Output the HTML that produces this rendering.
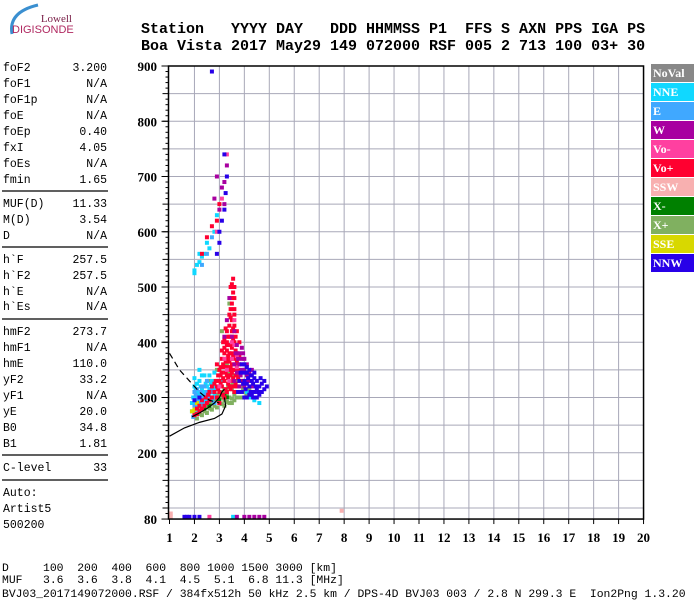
<!DOCTYPE html>
<html><head><meta charset="utf-8">
<style>
html,body{margin:0;padding:0;background:#fff;}
#root{position:relative;width:700px;height:600px;overflow:hidden;background:#fff;}
svg{position:absolute;left:0;top:0;}
</style></head>
<body>
<div id="root">
<svg id="chart" width="700" height="600" viewBox="0 0 700 600">
  <g>
    <path d="M12 34 Q8 12 38 5" stroke="#3a8fd0" stroke-width="3" fill="none"/>
    <text x="72" y="22" font-family="Liberation Serif,serif" font-size="11" fill="#7a2048" text-anchor="end">Lowell</text>
    <text x="12" y="33" font-family="Liberation Sans,sans-serif" font-size="11" fill="#b02860">DIGISONDE</text>
  </g>
  <g font-family="Liberation Mono,monospace" font-size="15" font-weight="bold" fill="#000">
    <text x="141" y="33" xml:space="preserve">Station   YYYY DAY   DDD HHMMSS P1  FFS S AXN PPS IGA PS</text>
    <text x="141" y="50" xml:space="preserve">Boa Vista 2017 May29 149 072000 RSF 005 2 713 100 03+ 30</text>
  </g>
  <g id="leftpanel" font-family="Liberation Mono,monospace" font-size="11.5" fill="#000"></g>
  <g id="grid"></g>
  <g id="marks"></g>
  <g id="lines"></g>
  <g id="axes"></g>
  <g id="legend"></g>
  <g font-family="Liberation Mono,monospace" font-size="11.4" fill="#000">
    <text x="2" y="571" xml:space="preserve">D     100  200  400  600  800 1000 1500 3000 [km]</text>
    <text x="2" y="583" xml:space="preserve">MUF   3.6  3.6  3.8  4.1  4.5  5.1  6.8 11.3 [MHz]</text>
    <text x="2" y="597" xml:space="preserve">BVJ03_2017149072000.RSF / 384fx512h 50 kHz 2.5 km / DPS-4D BVJ03 003 / 2.8 N 299.3 E  Ion2Png 1.3.20</text>
  </g>
</svg>
</div>
<script>
const NS="http://www.w3.org/2000/svg";
const xTicks=[1,2,3,4,5,6,7,8,9,10,11,12,13,14,15,16,17,18,19,20];
const yTicks=[900,800,700,600,500,400,300,200,80];
const yGrid=[850,800,750,700,650,600,550,500,450,400,350,300,250,200,150,100];
const paramLabels=["foF2","foF1","foF1p","foE","foEp","fxI","foEs","fmin","MUF(D)","M(D)","D","h`F","h`F2","h`E","h`Es","hmF2","hmF1","hmE","yF2","yF1","yE","B0","B1","C-level","Auto:","Artist5","500200"];
const paramValues=["3.200","N/A","N/A","N/A","0.40","4.05","N/A","1.65","11.33","3.54","N/A","257.5","257.5","N/A","N/A","273.7","N/A","110.0","33.2","N/A","20.0","34.8","1.81","33","","",""];
const paramRowY=[67,83,99,115,131,147,163,179,203,219,235,259,275,291,306,331,347,363,379,395,411,427,443,467,492,508,524];
const sepY=[191,247,319,455,480];
const legendNames=["NoVal","NNE","E","W","Vo-","Vo+","SSW","X-","X+","SSE","NNW"];
const legendColors=["#888888","#10d8ff","#40a8ff","#a800a0","#ff40a0","#ff0030","#f8b0b0","#008000","#80b060","#d8d800","#2800e8"];
// echo points [freq MHz, virtual height km]
const ptsNNE=[[1.9,290],[2.0,300],[2.1,310],[2.2,305],[2.3,295],[2.4,310],[2.0,320],[2.2,330],[2.5,300],[2.6,315],[2.8,305],[1.9,275],[2.1,285],[2.7,295],[3.0,320],[4.2,300],[4.4,295],[4.6,290],[4.1,310],[2.0,530],[2.1,540],[2.2,545],[2.3,555],[2.4,560],[2.6,570],[2.2,560],[2.5,580],[2.8,600],[2.9,630],[2.0,525],[3.55,84],[1.95,300],[2.05,315],[2.15,295],[2.25,320],[2.35,305],[2.45,325],[2.55,310],[2.65,325],[2.75,315],[2.85,320],[2.0,290],[2.2,285],[2.4,300],[2.6,305],[2.3,315],[2.1,325],[2.5,320],[2.7,330],[2.4,340],[2.9,330],[3.1,330],[2.05,280],[2.35,290],[2.15,305],[2.45,295],[2.3,340],[2.6,340],[2.8,345],[2.2,350],[2.0,335]];
const ptsE=[[2.0,285],[2.1,295],[2.3,300],[2.4,290],[2.5,310],[2.2,290],[2.6,300],[2.7,310],[2.9,315],[2.8,290],[2.1,275],[1.95,265],[2.3,540],[2.5,560],[2.7,590],[2.15,300],[2.25,310],[2.35,285],[2.45,305],[2.55,295],[2.65,315],[2.75,300],[2.05,305],[2.3,320],[2.5,330],[2.1,315],[2.0,310],[2.4,320]];
const ptsW=[[3.8,360],[3.9,370],[4.0,350],[4.1,340],[4.2,330],[3.7,345],[3.9,390],[3.6,330],[4.3,320],[3.4,480],[3.3,440],[3.2,410],[3.0,640],[3.2,690],[3.3,720],[3.1,680],[2.9,700],[2.8,660],[3.2,650],[3.7,84],[4.0,84],[4.2,84],[4.4,84],[4.6,84],[4.8,84],[3.8,380],[3.9,350],[4.0,370],[4.1,360],[3.7,395],[3.8,320],[4.0,320],[3.6,360],[3.75,370],[3.85,340],[3.95,380],[4.05,330],[3.65,380],[4.2,345],[4.3,350],[3.5,410],[3.6,420]];
const ptsVoMinus=[[3.6,395],[3.7,375],[3.5,370],[3.4,330],[3.8,345],[3.0,320],[2.9,600],[3.1,660],[3.3,740],[2.6,84],[3.3,350],[3.5,400],[3.6,440],[3.2,370],[3.7,355]];
const ptsVoPlus=[[2.9,300],[3.0,310],[3.1,320],[3.2,330],[3.3,340],[3.4,350],[3.5,360],[3.3,370],[3.4,380],[3.5,390],[3.6,400],[3.4,410],[3.5,420],[3.6,430],[3.5,440],[3.6,460],[3.5,480],[3.6,500],[3.55,515],[3.2,355],[3.1,345],[3.0,330],[2.9,320],[2.8,310],[2.7,300],[2.6,295],[2.5,290],[2.4,285],[2.3,280],[2.2,275],[2.1,270],[2.0,268],[3.7,380],[3.8,360],[3.7,340],[3.9,330],[3.6,350],[3.7,320],[3.3,310],[3.4,320],[3.5,330],[3.6,310],[3.2,300],[3.0,290],[3.8,400],[3.3,395],[3.7,420],[3.2,380],[3.45,445],[3.6,370],[3.5,345],[3.4,365],[3.3,355],[3.55,405],[3.45,395],[3.65,385],[2.5,590],[2.7,610],[2.9,620],[3.0,650],[2.3,560],
 [3.05,340],[3.15,335],[3.25,345],[3.35,335],[3.45,340],[3.55,350],[3.65,360],[3.75,350],[3.15,360],[3.25,365],[3.35,375],[3.45,370],[3.55,375],[3.65,340],[3.05,355],[3.1,370],[3.2,390],[3.3,400],[3.4,395],[3.5,410],[3.3,420],[3.4,430],[3.55,425],[3.6,450],[3.45,460],[3.4,450],[3.5,470],[3.55,490],[3.45,500],[3.6,480],[3.5,505],[2.95,315],[3.05,325],[3.15,305],[3.25,315],[3.35,325],[3.45,315],[3.55,320],[3.65,325],[3.75,335],[2.85,330],[2.95,340],[3.0,350],[2.9,360],[3.1,385],[3.2,405],[3.3,385],[3.4,340],[3.5,380],[3.7,365],[3.8,375],[2.6,310],[2.7,320],[2.8,325],[2.45,300],[2.55,305],[2.3,295],[2.2,285],[2.1,280],[3.35,410],[3.25,425],[3.15,400],[3.45,355],[3.55,335],[3.65,410]];
const ptsSSW=[[1.05,84],[1.05,90],[7.9,95]];
const ptsXMinus=[[2.2,275],[2.6,285],[3.0,295],[3.3,300],[3.6,310],[2.4,280],[2.8,290],[3.2,305]];
const ptsXPlus=[[2.0,265],[2.2,270],[2.4,275],[2.6,280],[2.8,285],[3.0,290],[3.2,295],[3.4,300],[3.6,305],[3.8,310],[2.3,278],[2.5,283],[2.7,290],[2.9,295],[3.1,300],[3.3,305],[3.5,315],[3.7,320],[2.1,262],[3.0,305],[3.2,315],[3.4,330],[3.6,340],[2.5,300],[2.8,300],[3.5,290],[3.9,300],[4.0,310],[3.3,360],[2.9,350],[3.1,420],[3.4,470],[2.6,330],
 [2.05,275],[2.15,280],[2.25,285],[2.35,290],[2.45,290],[2.55,295],[2.65,298],[2.75,300],[2.85,305],[2.95,305],[3.05,310],[3.15,310],[3.25,312],[3.35,318],[3.45,322],[3.55,325],[3.65,330],[3.75,330],[3.85,320],[3.95,315],[2.3,268],[2.5,272],[2.7,278],[2.9,282],[3.1,288],[3.3,292],[3.5,298],[3.7,300],[2.6,290],[2.8,295],[3.0,300],[3.2,285],[3.4,290],[3.6,295],[3.8,300],[4.1,305],[4.2,315],[3.35,345],[3.15,330]];
const ptsSSE=[[1.9,275],[2.1,290],[2.0,278]];
const ptsNNW=[[4.0,330],[4.2,320],[4.4,310],[4.6,320],[4.1,300],[4.3,340],[4.5,330],[4.7,325],[3.9,310],[4.0,345],[4.2,350],[4.4,335],[4.8,315],[3.8,330],[4.1,325],[4.3,305],[4.5,300],[3.9,360],[3.0,600],[3.1,620],[3.2,640],[3.3,700],[3.2,740],[3.0,580],[2.9,560],[3.25,670],[2.7,890],[1.6,84],[1.7,84],[1.8,84],[2.0,84],[2.2,84],
 [4.05,315],[4.15,335],[4.25,310],[4.35,325],[4.45,320],[4.55,310],[4.65,335],[4.1,345],[4.2,305],[4.3,330],[4.4,345],[4.5,315],[4.0,300],[3.95,325],[4.1,355],[4.25,340],[4.35,300],[4.6,305],[4.7,310],[4.8,330],[4.9,320],[3.85,345],[4.0,360],[3.75,310],[2.2,300],[2.0,295]];
const lineDashed=[[1.0,380],[1.4,350],[1.8,330],[2.2,310],[2.6,295],[3.0,290]];
const lineTrace=[[1.9,265],[2.2,272],[2.5,280],[2.8,290],[3.0,300],[3.1,310],[3.2,315]];
const lineProfile=[[1.0,230],[1.6,245],[2.2,255],[2.8,262],[3.1,270],[3.25,285],[3.2,300]];

const X0=169.5,XS=24.95,Y0=66,YS=0.5525;
function xs(f){return X0+(f-1)*XS;}
function ys(h){return Y0+(900-h)*YS;}
function mk(tag,attrs,parent){const e=document.createElementNS(NS,tag);for(const k in attrs)e.setAttribute(k,attrs[k]);parent.appendChild(e);return e;}

const lp=document.getElementById('leftpanel');
paramLabels.forEach((l,i)=>{
  const t=mk('text',{x:3,y:paramRowY[i]+4},lp);t.textContent=l;
  
  
  if(paramValues[i]){const v=mk('text',{x:107,y:paramRowY[i]+4,'text-anchor':'end'},lp);v.textContent=paramValues[i];
  
  }
});
sepY.forEach(y=>{const s=mk('line',{x1:2,x2:108,y1:y,y2:y,stroke:'#000','stroke-width':1.2},lp);
  
  });

const grid=document.getElementById('grid');
const ybot=ys(80), ytop=ys(900), xl=xs(1)-1, xr=xs(20);
xTicks.forEach(f=>{if(f>1&&f<20){const g=mk('line',{x1:xs(f),x2:xs(f),y1:ytop,y2:ybot,stroke:'#a8a8b8','stroke-width':1},grid);
  
  }});
yGrid.forEach(h=>{const g=mk('line',{x1:xl,x2:xr,y1:ys(h),y2:ys(h),stroke:'#a8a8b8','stroke-width':1},grid);
  
  });

const marks=document.getElementById('marks');
const series=[[ptsXPlus,8],[ptsXMinus,7],[ptsNNE,1],[ptsE,2],[ptsSSE,9],[ptsVoPlus,5],[ptsVoMinus,4],[ptsW,3],[ptsNNW,10],[ptsSSW,6]];
series.forEach(([pts,ci])=>{pts.forEach(p=>{
  const r=mk('rect',{x:xs(p[0])-2,y:ys(p[1])-2,width:4,height:4,fill:legendColors[ci]},marks);
  
  
});});

const lines=document.getElementById('lines');
function pl(pts,dash,name){const l=mk('polyline',{points:pts.map(p=>xs(p[0])+','+ys(p[1])).join(' '),fill:'none',stroke:'#000','stroke-width':1.2},lines);
  if(dash)l.setAttribute('stroke-dasharray','6,4');
  
  }
pl(lineDashed,true,'dashed-trace');pl(lineTrace,false,'trace-line');pl(lineProfile,false,'profile-line');

const axes=document.getElementById('axes');
const fr=mk('rect',{x:xl,y:ytop,width:xr-xl,height:ybot-ytop,fill:'none',stroke:'#000','stroke-width':1.5},axes);

for(let h=90;h<=900;h+=10){const len=(h%50===0)?6:3;mk('line',{x1:xl-len,x2:xl,y1:ys(h),y2:ys(h),stroke:'#000','stroke-width':1},axes);}
yTicks.forEach(h=>{mk('line',{x1:xl-7,x2:xl,y1:ys(h),y2:ys(h),stroke:'#000'},axes);
  const t=mk('text',{x:157,y:ys(h)+5,'text-anchor':'end','font-family':'Liberation Serif,serif','font-size':13,'font-weight':'bold'},axes);
  t.textContent=h;
  
  });
xTicks.forEach(f=>{mk('line',{x1:xs(f),x2:xs(f),y1:ybot,y2:ybot+5,stroke:'#000'},axes);
  const t=mk('text',{x:xs(f),y:542,'text-anchor':'middle','font-family':'Liberation Serif,serif','font-size':13,'font-weight':'bold'},axes);
  t.textContent=f;
  
  });

const lg=document.getElementById('legend');
legendNames.forEach((n,i)=>{const y=64+i*19;
  const r=mk('rect',{x:651,y:y,width:43,height:18,fill:legendColors[i]},lg);
  
  
  const t=mk('text',{x:653,y:y+13,'font-family':'Liberation Serif,serif','font-size':12,'font-weight':'bold',fill:'#fff'},lg);
  t.textContent=n;
  
  });
</script>
</body></html>
